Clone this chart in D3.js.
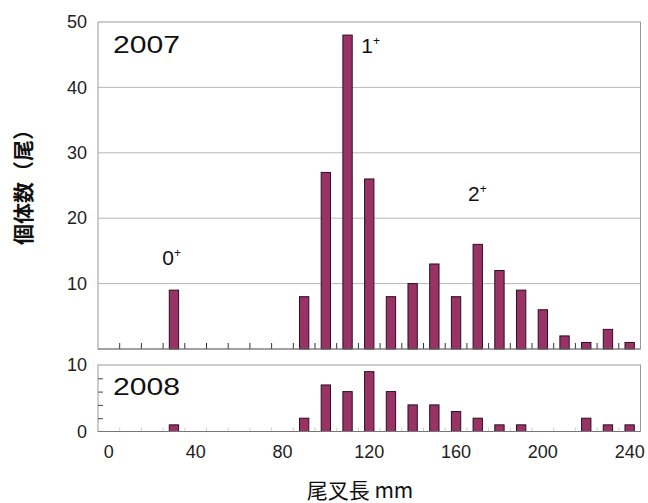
<!DOCTYPE html>
<html>
<head>
<meta charset="utf-8">
<script src="https://cdn.jsdelivr.net/npm/d3@7"></script>
<style>
  body { margin: 0; background: #fff; }
  svg { display: block; font-family: Arial, "Liberation Sans", sans-serif; }
</style>
</head>
<body>
<svg width="648" height="503"></svg>
<script>
// fork length classes (mm)
const lengths = [0, 10, 20, 30, 40, 50, 60, 70, 80, 90, 100, 110, 120, 130, 140, 150, 160, 170, 180, 190, 200, 210, 220, 230, 240]
const counts2007 = [0, 0, 0, 9, 0, 0, 0, 0, 0, 8, 27, 48, 26, 8, 10, 13, 8, 16, 12, 9, 6, 2, 1, 3, 1]
const counts2008 = [0, 0, 0, 1, 0, 0, 0, 0, 0, 2, 7, 6, 9, 6, 4, 4, 3, 2, 1, 1, 0, 0, 2, 1, 1]
const xTickLabels = [0, 40, 80, 120, 160, 200, 240]
const yTicksTop = [10, 20, 30, 40, 50]
const yTicksBottom = [0, 10]
const yMinorBottom = [2, 4, 6, 8]
const cohorts = [
  { label: '0', at: 30, y: 12.8 },
  { label: '1', at: 120, y: 45.2 },
  { label: '2', at: 170, y: 22.6 }
]

const left = 98, right = 640.5
const top1 = 22, bottom1 = 349
const top2 = 365, bottom2 = 431.5
const barColor = '#993366'

const svg = d3.select('svg')

const pad = 0.57
const x = d3.scaleBand()
  .domain(lengths)
  .range([left, right])
  .paddingInner(pad)
  .paddingOuter(pad / 2)
const edge = d => x(d) - x.step() * pad / 2

const yTop = d3.scaleLinear().domain([0, 50]).range([bottom1, top1])
const yBot = d3.scaleLinear().domain([0, 10]).range([bottom2, top2])

// ---- top panel (2007)
const g1 = svg.append('g')

g1.append('g')
  .selectAll('line')
  .data([10, 20, 30, 40])
  .join('line')
    .attr('x1', left).attr('x2', right)
    .attr('y1', d => yTop(d)).attr('y2', d => yTop(d))
    .attr('stroke', '#b8b8b8')

g1.append('rect')
  .attr('x', left).attr('y', top1)
  .attr('width', right - left).attr('height', bottom1 - top1)
  .attr('fill', 'none').attr('stroke', '#9a9a9a')

g1.append('g')
  .attr('transform', `translate(${left},0)`)
  .call(d3.axisLeft(yTop).tickValues(yTicksTop).tickSize(0).tickPadding(11))
  .call(g => g.select('.domain').remove())
  .call(g => g.selectAll('text').attr('font-size', 18).attr('fill', '#222'))

g1.append('g')
  .selectAll('line')
  .data(lengths.slice(1))
  .join('line')
    .attr('x1', d => edge(d)).attr('x2', d => edge(d))
    .attr('y1', bottom1).attr('y2', bottom1 - 6)
    .attr('stroke', '#333')

g1.append('g')
  .selectAll('rect')
  .data(lengths.map((d, i) => ({ len: d, n: counts2007[i] })).filter(d => d.n > 0))
  .join('rect')
    .attr('x', d => x(d.len))
    .attr('y', d => yTop(d.n))
    .attr('width', x.bandwidth())
    .attr('height', d => yTop(0) - yTop(d.n))
    .attr('fill', barColor)
    .attr('stroke', '#2a1020')
    .attr('stroke-width', 1)

g1.append('line')
  .attr('x1', left).attr('x2', right)
  .attr('y1', bottom1).attr('y2', bottom1)
  .attr('stroke', '#777')

g1.append('text')
  .attr('x', 113).attr('y', 53)
  .attr('font-size', 23)
  .attr('textLength', 67).attr('lengthAdjust', 'spacingAndGlyphs')
  .attr('fill', '#111')
  .text('2007')

const ann = g1.append('g')
  .selectAll('text')
  .data(cohorts)
  .join('text')
    .attr('y', d => yTop(d.y))
    .attr('font-size', 21)
    .attr('fill', '#111')
ann.filter(d => d.at === 30).attr('x', d => x(d.at) - 7)
ann.filter(d => d.at === 120).attr('x', d => x(110) + x.bandwidth() + 9)
ann.filter(d => d.at === 170).attr('x', d => x(d.at) - 5)
ann.append('tspan').text(d => d.label)
ann.append('tspan').attr('dy', -8).attr('font-size', 12).text('+')

// ---- bottom panel (2008)
const g2 = svg.append('g')

g2.append('rect')
  .attr('x', left).attr('y', top2)
  .attr('width', right - left).attr('height', bottom2 - top2)
  .attr('fill', 'none').attr('stroke', '#9a9a9a')

g2.append('g')
  .attr('transform', `translate(${left},0)`)
  .call(d3.axisLeft(yBot).tickValues(yTicksBottom).tickSize(0).tickPadding(11))
  .call(g => g.select('.domain').remove())
  .call(g => g.selectAll('text').attr('font-size', 18).attr('fill', '#222'))

g2.append('g')
  .attr('transform', `translate(${left},0)`)
  .call(d3.axisLeft(yBot).tickValues(yMinorBottom).tickSize(-5).tickFormat(''))
  .call(g => g.select('.domain').remove())
  .call(g => g.selectAll('line').attr('stroke', '#444'))

g2.append('g')
  .selectAll('line')
  .data(lengths.slice(1))
  .join('line')
    .attr('x1', d => edge(d)).attr('x2', d => edge(d))
    .attr('y1', bottom2).attr('y2', bottom2 - 4)
    .attr('stroke', '#d0d0d0')

g2.append('g')
  .selectAll('rect')
  .data(lengths.map((d, i) => ({ len: d, n: counts2008[i] })).filter(d => d.n > 0))
  .join('rect')
    .attr('x', d => x(d.len))
    .attr('y', d => yBot(d.n))
    .attr('width', x.bandwidth())
    .attr('height', d => yBot(0) - yBot(d.n))
    .attr('fill', barColor)
    .attr('stroke', '#2a1020')
    .attr('stroke-width', 1)

g2.append('line')
  .attr('x1', left).attr('x2', right)
  .attr('y1', bottom2).attr('y2', bottom2)
  .attr('stroke', '#777')

g2.append('text')
  .attr('x', 113).attr('y', 395)
  .attr('font-size', 23)
  .attr('textLength', 67).attr('lengthAdjust', 'spacingAndGlyphs')
  .attr('fill', '#111')
  .text('2008')

// x axis labels
g2.append('g')
  .attr('transform', `translate(0,${bottom2})`)
  .call(d3.axisBottom(x).tickValues(xTickLabels).tickSize(0).tickPadding(11))
  .call(g => g.select('.domain').remove())
  .call(g => g.selectAll('text').attr('font-size', 18).attr('fill', '#222').attr('dy', '0.85em'))

// axis titles
svg.append('text')
  .attr('x', 360).attr('y', 498)
  .attr('text-anchor', 'middle')
  .attr('font-size', 21)
  .attr('font-family', '"Noto Sans CJK JP", sans-serif')
  .attr('fill', '#111')
  .text('尾叉長 mm')

svg.append('text')
  .attr('transform', 'translate(31,182) rotate(-90)')
  .attr('text-anchor', 'middle')
  .attr('font-size', 21)
  .attr('font-weight', 'bold')
  .attr('font-family', '"Noto Sans CJK JP", sans-serif')
  .attr('fill', '#111')
  .text('個体数（尾）')
</script>
</body>
</html>
